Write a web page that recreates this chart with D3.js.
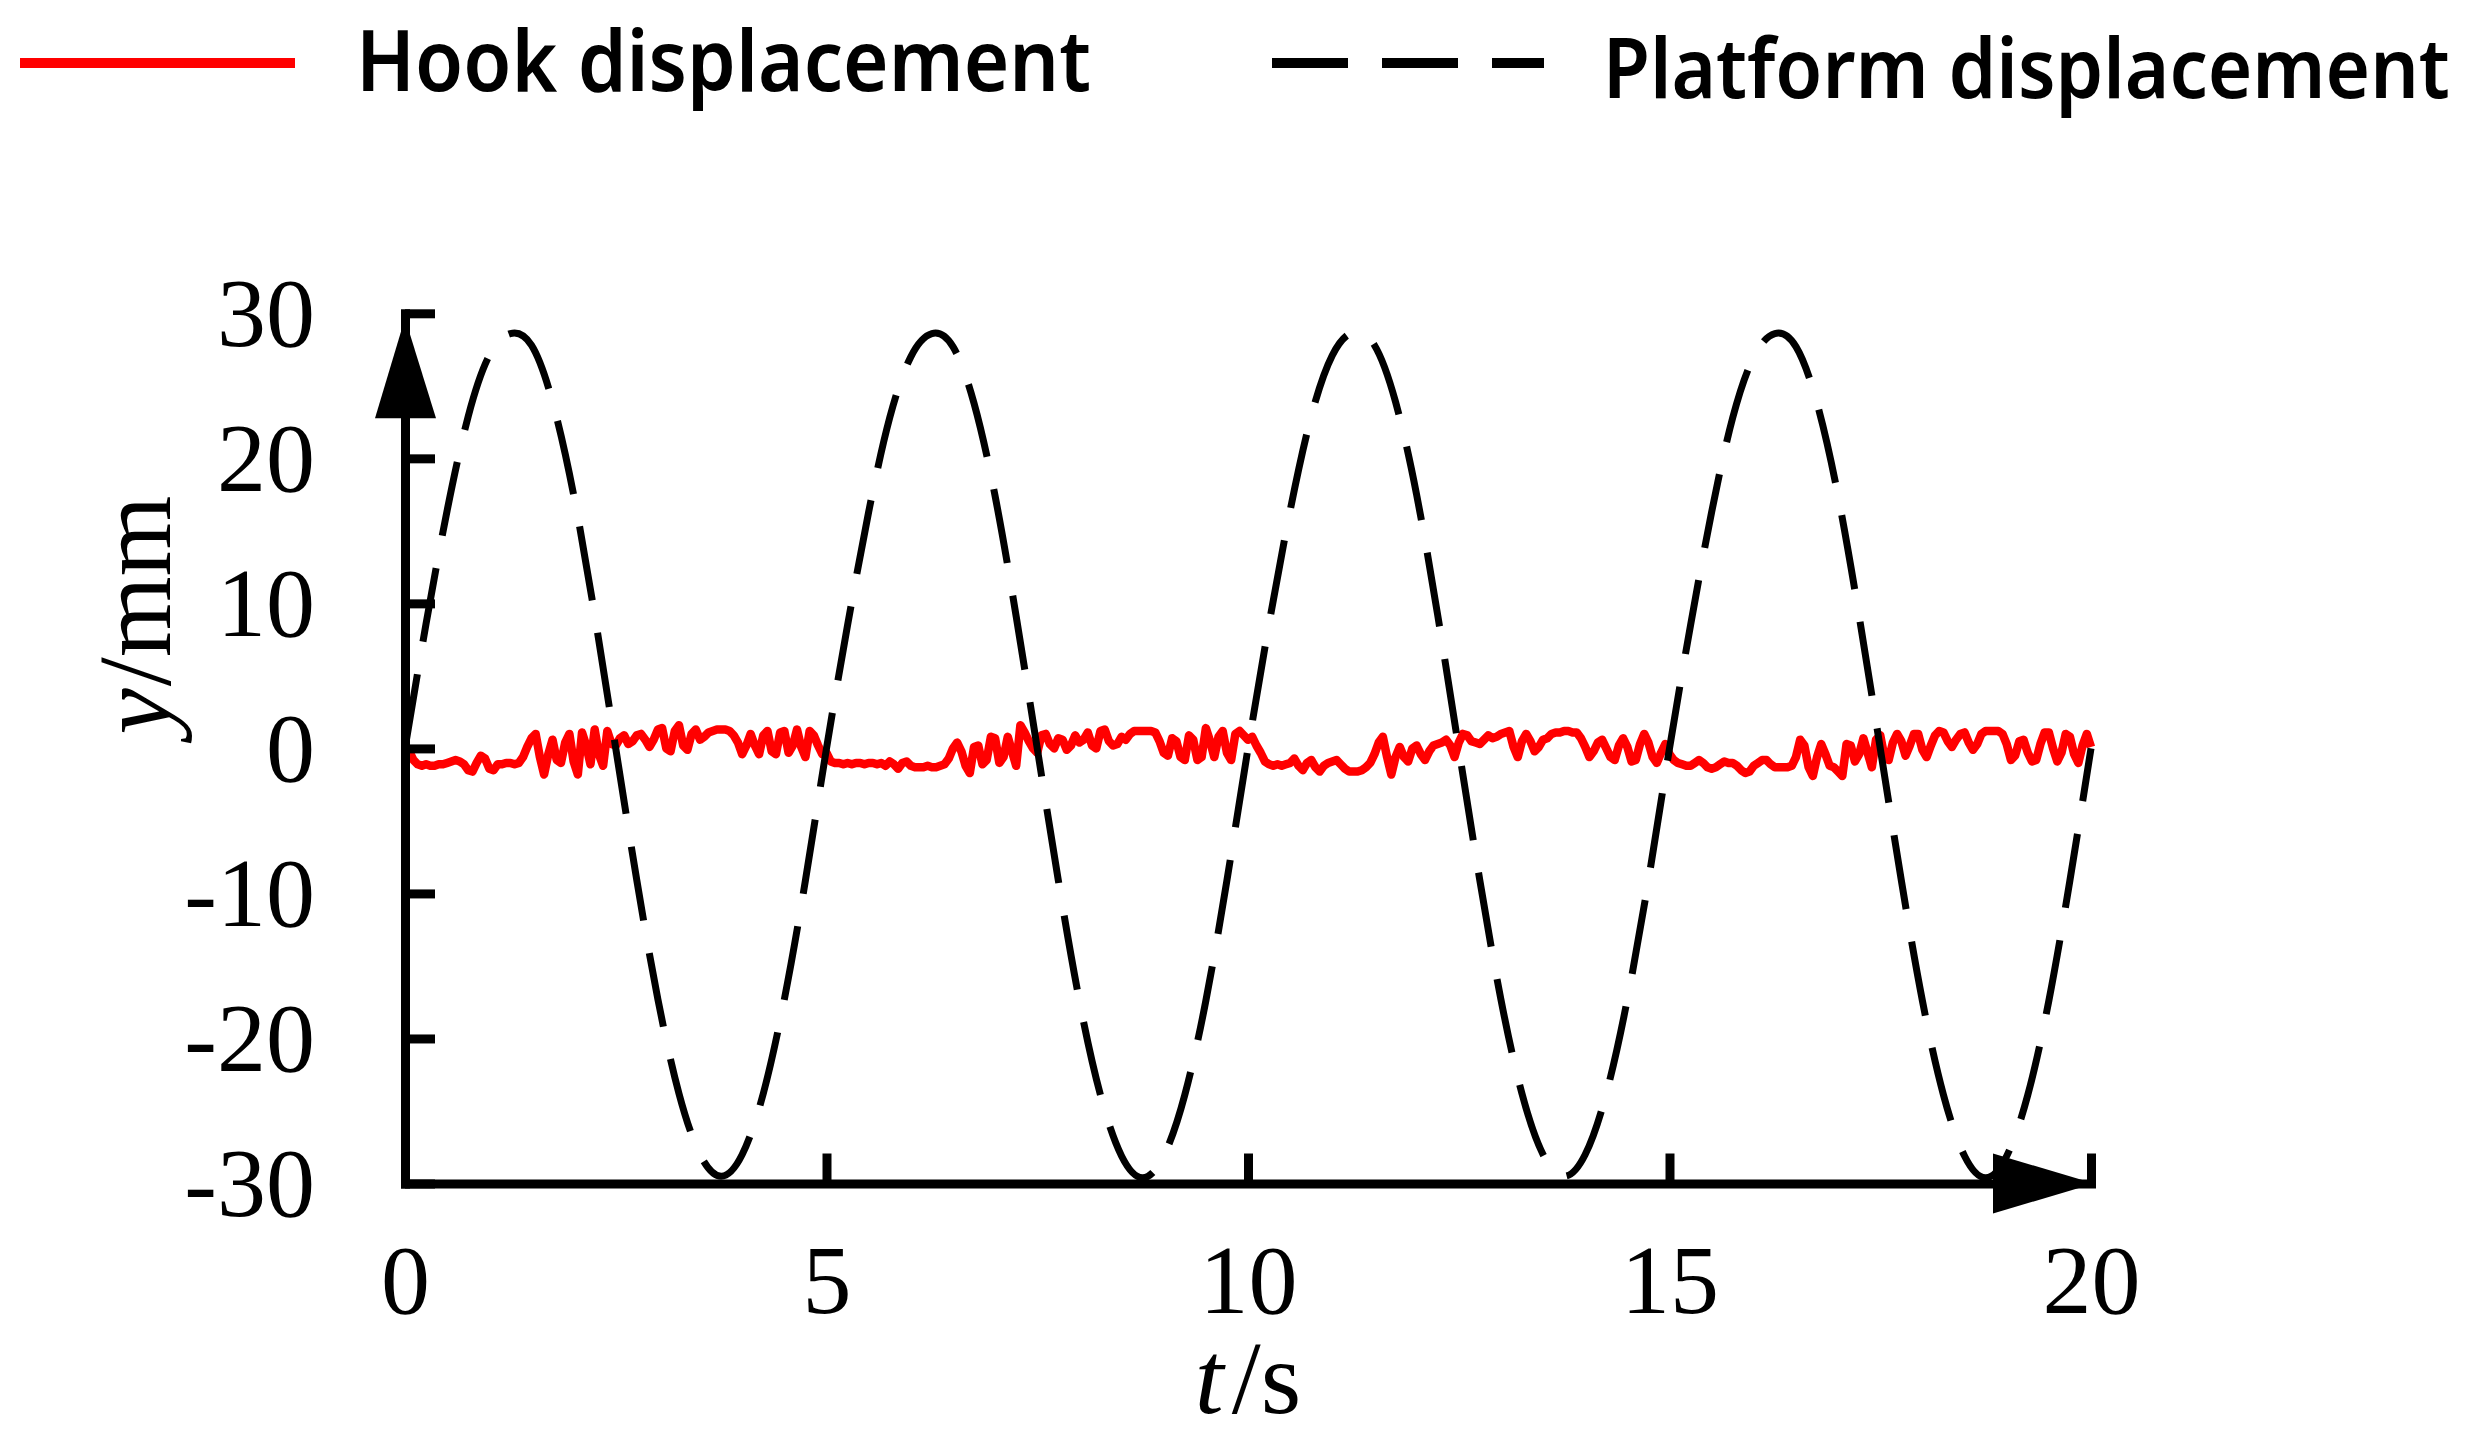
<!DOCTYPE html>
<html>
<head>
<meta charset="utf-8">
<script src="https://cdn.jsdelivr.net/npm/d3@7"></script>
<style>
  html, body { margin: 0; padding: 0; background: #fff; }
  svg { display: block; }
</style>
</head>
<body>
<svg id="chart" width="2477" height="1438"></svg>
<script>
// ---- data ----
const seriesNames = ["Hook displacement", "Platform displacement"];
const xTicks = [0, 5, 10, 15, 20];
const yTicks = [-30, -20, -10, 0, 10, 20, 30];
const xLabel = ["t", "/s"];
const yLabel = ["y", "/mm"];

// platform displacement, sampled every 0.25 s from t = 0
const platformStep = 0.25;
const platformValues = [
  0.0, 8.6, 16.4, 22.9, 27.1, 28.6, 27.8, 23.9, 17.5, 9.2,
  0.0, -9.1, -17.3, -23.8, -28.0, -29.5, -28.0, -23.8, -17.3, -9.1,
  0.0, 8.5, 16.3, 22.8, 27.0, 28.6, 27.7, 23.8, 17.4, 9.1,
  0.0, -9.1, -17.4, -23.9, -28.1, -29.6, -28.1, -23.9, -17.4, -9.1,
  0.0, 8.6, 16.4, 22.9, 27.1, 28.7, 27.8, 23.9, 17.5, 9.2,
  0.0, -9.1, -17.3, -23.8, -28.0, -29.5, -28.0, -23.8, -17.3, -9.1,
  0.0, 8.5, 16.3, 22.8, 27.0, 28.6, 27.7, 23.8, 17.4, 9.1,
  0.0, -9.1, -17.4, -23.9, -28.1, -29.6, -28.1, -23.9, -17.4, -9.1,
  0.0
];

// hook displacement, sampled every 0.05 s from t = 0
const hookStep = 0.05;
const hookValues = [
  -0.5,-0.2,-0.8,-1.1,-1.2,-1.1,-1.2,-1.2,-1.1,-1.1,
  -1.0,-0.9,-0.8,-0.9,-1.1,-1.5,-1.6,-1.0,-0.5,-0.7,
  -1.4,-1.5,-1.1,-1.1,-1.0,-1.0,-1.1,-1.0,-0.6,0.1,
  0.7,1.0,-0.6,-1.8,-0.4,0.6,-0.8,-1.0,0.4,1.0,
  -0.9,-1.8,1.1,0.2,-1.1,1.3,-0.4,-1.2,1.2,0.3,
  0.2,0.7,0.9,0.3,0.5,0.9,1.0,0.6,0.1,0.6,
  1.3,1.4,0.0,-0.2,1.2,1.6,0.2,-0.1,1.0,1.3,
  0.6,0.8,1.1,1.2,1.3,1.3,1.3,1.2,0.9,0.4,
  -0.4,0.2,1.0,0.2,-0.4,0.9,1.2,-0.2,-0.4,1.1,
  1.2,-0.3,0.2,1.3,0.1,-0.6,1.2,0.9,0.2,-0.4,
  -0.3,-0.9,-1.0,-1.0,-1.1,-1.0,-1.1,-1.0,-1.0,-1.1,
  -1.0,-1.0,-1.1,-1.0,-1.2,-0.9,-1.1,-1.4,-1.0,-0.9,
  -1.2,-1.3,-1.3,-1.3,-1.2,-1.3,-1.3,-1.2,-1.1,-0.7,
  0.0,0.4,-0.2,-1.2,-1.7,0.1,0.2,-1.1,-0.8,0.8,
  0.7,-1.0,-0.6,0.8,-0.2,-1.2,1.6,1.1,0.5,0.0,
  -0.3,0.9,1.0,0.3,0.0,0.7,0.6,-0.1,0.2,0.9,
  0.4,0.6,1.1,0.2,0.0,1.2,1.3,0.5,0.2,0.3,
  0.8,0.6,1.0,1.2,1.2,1.2,1.2,1.2,1.1,0.5,
  -0.3,-0.5,0.7,0.5,-0.6,-0.8,0.9,0.6,-0.8,-0.6,
  1.4,0.5,-0.6,0.8,1.2,-0.3,-0.8,1.0,1.2,0.9,
  0.6,0.8,0.2,-0.3,-0.9,-1.1,-1.2,-1.1,-1.2,-1.1,
  -1.0,-0.7,-1.2,-1.5,-1.0,-0.8,-1.3,-1.6,-1.2,-1.0,
  -0.9,-0.8,-1.1,-1.4,-1.6,-1.6,-1.6,-1.5,-1.3,-1.0,
  -0.4,0.4,0.8,-0.6,-1.8,-0.6,0.1,-0.6,-0.9,0.0,
  0.2,-0.4,-0.8,-0.2,0.2,0.3,0.4,0.6,0.2,-0.6,
  0.4,1.0,0.9,0.5,0.4,0.3,0.6,0.9,0.7,0.8,
  1.0,1.1,1.2,0.1,-0.6,0.5,1.0,0.5,-0.2,0.1,
  0.6,0.7,1.0,1.1,1.1,1.2,1.2,1.1,1.1,0.7,
  0.1,-0.6,-0.2,0.4,0.6,0.0,-0.6,-0.8,0.2,0.7,
  0.1,-0.9,-0.8,0.3,1.0,0.4,-0.6,-1.0,-0.3,0.3,
  -0.4,-0.8,-1.0,-1.1,-1.2,-1.2,-1.0,-0.8,-1.0,-1.3,
  -1.4,-1.3,-1.1,-0.9,-1.0,-1.0,-1.2,-1.5,-1.7,-1.6,
  -1.2,-1.0,-0.8,-0.8,-1.1,-1.3,-1.3,-1.3,-1.3,-1.2,
  -0.6,0.6,0.2,-1.3,-1.9,-0.6,0.3,-0.4,-1.2,-1.3,
  -1.6,-1.9,0.3,0.2,-0.9,-0.4,0.7,-0.3,-1.3,0.6,
  0.9,-0.6,-0.8,0.4,1.0,0.5,-0.5,0.2,1.0,1.0,
  -0.1,-0.6,0.2,0.9,1.2,1.1,0.5,0.1,0.6,1.0,
  1.1,0.4,-0.1,0.3,1.0,1.2,1.2,1.2,1.2,1.0,
  0.3,-0.8,-0.5,0.5,0.6,-0.3,-0.9,-0.8,0.3,1.1,
  1.1,0.0,-0.9,-0.3,1.0,0.8,-0.4,-1.0,0.2,1.0,
  0.1
];

// ---- drawing ----
const svg = d3.select("#chart");
const serif = "'Liberation Serif','Times New Roman',Times,serif";
const sans = "'Noto Sans','Open Sans',Arial,sans-serif";

const x = d3.scaleLinear().domain([0, 20]).range([405, 2091]);
const y = d3.scaleLinear().domain([-30, 30]).range([1183.5, 313.3]);

const hookData = hookValues.map((v, i) => ({ t: i * hookStep, v }));
const platformData = platformValues.map((v, i) => ({ t: i * platformStep, v }));

// hook line (red)
svg.append("path")
  .datum(hookData)
  .attr("fill", "none")
  .attr("stroke", "#ff0000")
  .attr("stroke-width", 8.5)
  .attr("stroke-linejoin", "round")
  .attr("d", d3.line().x(d => x(d.t)).y(d => y(d.v)));

// platform line (black dashed)
svg.append("path")
  .datum(platformData)
  .attr("fill", "none")
  .attr("stroke", "#000")
  .attr("stroke-width", 7)
  .attr("stroke-dasharray", "75,33")
  .attr("d", d3.line().curve(d3.curveNatural).x(d => x(d.t)).y(d => y(d.v)));

// axes
const yAxis = d3.axisLeft(y).tickValues(yTicks).tickSizeInner(-30).tickSizeOuter(0).tickPadding(90)
  .tickFormat(d3.format("d"));
const gy = svg.append("g").attr("transform", `translate(${x(0)},0)`).call(yAxis);
gy.select(".domain").attr("stroke-width", 9).attr("stroke-linecap", "square");
gy.selectAll(".tick line").attr("stroke-width", 9);
gy.selectAll(".tick text")
  .attr("font-family", serif).attr("font-size", 98).attr("fill", "#000")
  .attr("dy", "0.33em")
  .text(d => d < 0 ? "-" + Math.abs(d) : String(d));

const xAxis = d3.axisBottom(x).tickValues(xTicks).tickSizeInner(-30).tickSizeOuter(0)
  .tickFormat(d3.format("d"));
const gx = svg.append("g").attr("transform", `translate(0,${y(-30)})`).call(xAxis);
gx.select(".domain").attr("stroke-width", 9).attr("stroke-linecap", "square");
gx.selectAll(".tick line").attr("stroke-width", 9);
gx.selectAll(".tick text")
  .attr("font-family", serif).attr("font-size", 98).attr("fill", "#000")
  .attr("dy", null).attr("y", 129.5);

svg.selectAll(".domain, .tick line").attr("stroke", "#000");

// arrow heads
const yTip = y(30) + 5;
svg.append("path").attr("fill", "#000")
  .attr("d", `M${x(0)},${yTip}L${x(0) - 30},${yTip + 100}L${x(0) + 31},${yTip + 100}Z`);
const xTip = x(20) + 3;
svg.append("path").attr("fill", "#000")
  .attr("d", `M${xTip},${y(-30)}L${xTip - 101},${y(-30) - 30}L${xTip - 101},${y(-30) + 30}Z`);

// axis titles
const xt = svg.append("text")
  .attr("x", x(10)).attr("y", 1413)
  .attr("text-anchor", "middle")
  .attr("font-family", serif).attr("font-size", 104).attr("fill", "#000");
xt.append("tspan").attr("font-style", "italic").text(xLabel[0]);
xt.append("tspan").attr("dx", 8).text(xLabel[1]);

const yt = svg.append("text")
  .attr("transform", "translate(170,615) rotate(-90)")
  .attr("text-anchor", "middle")
  .attr("font-family", serif).attr("font-size", 104).attr("fill", "#000");
yt.append("tspan").attr("font-style", "italic").text(yLabel[0]);
yt.append("tspan").attr("dx", 2).text(yLabel[1]);

// legend (text squeezed horizontally to the reference's condensed look)
function legendText(label, x0, base, width) {
  const g = svg.append("g");
  const t = g.append("text").attr("x", 0).attr("y", 0)
    .attr("font-family", sans).attr("font-size", 84).attr("font-weight", 600).attr("fill", "#000")
    .text(label);
  const w = t.node().getComputedTextLength();
  g.attr("transform", `translate(${x0},${base}) scale(${width / w},1)`);
}
svg.append("line").attr("x1", 20).attr("x2", 295).attr("y1", 63).attr("y2", 63)
  .attr("stroke", "#ff0000").attr("stroke-width", 10);
legendText(seriesNames[0], 356, 91, 735);

svg.append("line").attr("x1", 1272).attr("x2", 1544).attr("y1", 63).attr("y2", 63)
  .attr("stroke", "#000").attr("stroke-width", 10).attr("stroke-dasharray", "76,34");
legendText(seriesNames[1], 1603, 98, 847);
</script>
</body>
</html>
